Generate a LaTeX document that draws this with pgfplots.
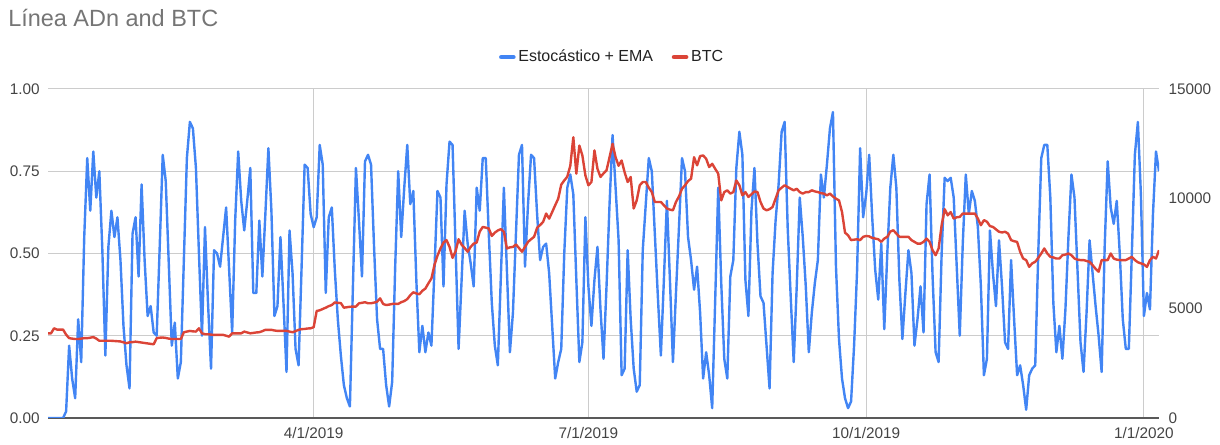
\documentclass[border=0pt]{standalone}
\usepackage{pgfplots}
\pgfplotsset{compat=1.18}
\usepackage{pgfplotstable}
\usepackage{fontspec}
\setmainfont{Liberation Sans}

\definecolor{stochblue}{HTML}{4285F4}
\definecolor{btcred}{HTML}{DB4437}
\definecolor{titlegray}{HTML}{757575}
\definecolor{labelgray}{HTML}{444444}
\definecolor{legendgray}{HTML}{222222}
\definecolor{gridgray}{HTML}{CCCCCC}

% day 0 = 1/1/2019
\pgfplotstableread{
day k
2 0
3 0
4 0
5 0
6 0
7 0
8 0.02
9 0.22
10 0.12
11 0.06
12 0.30
13 0.17
14 0.55
15 0.79
16 0.63
17 0.81
18 0.67
19 0.75
20 0.51
21 0.19
22 0.52
23 0.63
24 0.55
25 0.61
26 0.48
27 0.28
28 0.16
29 0.09
30 0.56
31 0.61
32 0.43
33 0.71
34 0.48
35 0.31
36 0.34
37 0.26
38 0.25
39 0.52
40 0.80
41 0.72
42 0.47
43 0.22
44 0.29
45 0.12
46 0.17
47 0.48
48 0.79
49 0.90
50 0.88
51 0.76
52 0.50
53 0.25
54 0.58
55 0.35
56 0.15
57 0.51
58 0.50
59 0.46
60 0.55
61 0.64
62 0.45
63 0.26
64 0.60
65 0.81
66 0.66
67 0.57
68 0.66
69 0.76
70 0.38
71 0.38
72 0.60
73 0.43
74 0.62
75 0.82
76 0.63
77 0.31
78 0.34
79 0.55
80 0.35
81 0.14
82 0.57
83 0.44
84 0.21
85 0.16
86 0.46
87 0.77
88 0.76
89 0.62
90 0.58
91 0.61
92 0.83
93 0.77
94 0.38
95 0.61
96 0.64
97 0.45
98 0.30
99 0.19
100 0.10
101 0.06
102 0.035
103 0.40
104 0.76
105 0.60
106 0.43
107 0.78
108 0.80
109 0.77
110 0.52
111 0.30
112 0.21
113 0.21
114 0.10
115 0.035
116 0.11
117 0.46
118 0.75
119 0.55
120 0.70
121 0.83
122 0.65
123 0.69
124 0.42
125 0.20
126 0.28
127 0.20
128 0.26
129 0.22
130 0.45
131 0.69
132 0.67
133 0.40
134 0.71
135 0.84
136 0.83
137 0.52
138 0.21
139 0.42
140 0.63
141 0.53
142 0.47
143 0.40
144 0.70
145 0.63
146 0.79
147 0.79
148 0.56
149 0.35
150 0.22
151 0.16
152 0.43
153 0.70
154 0.45
155 0.20
156 0.32
157 0.56
158 0.80
159 0.83
160 0.46
161 0.65
162 0.80
163 0.79
164 0.62
165 0.48
166 0.52
167 0.53
168 0.44
169 0.28
170 0.12
171 0.17
172 0.21
173 0.50
174 0.70
175 0.74
176 0.68
177 0.42
178 0.17
179 0.23
180 0.61
181 0.40
182 0.28
183 0.42
184 0.52
185 0.33
186 0.18
187 0.40
188 0.65
189 0.86
190 0.70
191 0.54
192 0.13
193 0.15
194 0.51
195 0.30
196 0.15
197 0.08
198 0.10
199 0.51
200 0.65
201 0.79
202 0.75
203 0.56
204 0.37
205 0.19
206 0.42
207 0.66
208 0.42
209 0.17
210 0.38
211 0.58
212 0.79
213 0.75
214 0.55
215 0.48
216 0.39
217 0.46
218 0.32
219 0.12
220 0.20
221 0.13
222 0.03
223 0.36
224 0.70
225 0.41
226 0.18
227 0.12
228 0.43
229 0.48
230 0.76
231 0.87
232 0.80
233 0.42
234 0.31
235 0.63
236 0.76
237 0.53
238 0.37
239 0.35
240 0.22
241 0.09
242 0.44
243 0.60
244 0.71
245 0.87
246 0.90
247 0.58
248 0.37
249 0.17
250 0.40
251 0.67
252 0.55
253 0.40
254 0.20
255 0.32
256 0.41
257 0.48
258 0.74
259 0.67
260 0.77
261 0.88
262 0.93
263 0.46
264 0.24
265 0.12
266 0.06
267 0.03
268 0.05
269 0.22
270 0.45
271 0.82
272 0.61
273 0.68
274 0.80
275 0.61
276 0.45
277 0.36
278 0.53
279 0.27
280 0.50
281 0.70
282 0.80
283 0.70
284 0.42
285 0.24
286 0.38
287 0.51
288 0.44
289 0.22
290 0.30
291 0.40
292 0.26
293 0.65
294 0.74
295 0.43
296 0.20
297 0.17
298 0.50
299 0.73
300 0.72
301 0.73
302 0.67
303 0.46
304 0.25
305 0.53
306 0.74
307 0.62
308 0.69
309 0.66
310 0.58
311 0.40
312 0.13
313 0.18
314 0.57
315 0.44
316 0.34
317 0.54
318 0.40
319 0.23
320 0.21
321 0.48
322 0.30
323 0.13
324 0.16
325 0.10
326 0.025
327 0.13
328 0.15
329 0.16
330 0.50
331 0.79
332 0.83
333 0.83
334 0.67
335 0.35
336 0.20
337 0.28
338 0.18
339 0.33
340 0.55
341 0.74
342 0.67
343 0.45
344 0.23
345 0.14
346 0.32
347 0.54
348 0.44
349 0.34
350 0.25
351 0.14
352 0.52
353 0.78
354 0.64
355 0.59
356 0.66
357 0.50
358 0.30
359 0.21
360 0.21
361 0.50
362 0.80
363 0.90
364 0.68
365 0.31
366 0.38
367 0.33
368 0.62
369 0.81
370 0.75
}\stochdata

\pgfplotstableread{
day price
2 3860
3 3860
4 4090
5 4030
6 4030
7 4030
8 3800
9 3640
10 3620
11 3600
12 3600
13 3620
14 3640
15 3640
16 3660
17 3690
18 3620
19 3520
20 3520
21 3520
22 3520
23 3520
24 3510
25 3500
26 3490
27 3450
28 3410
29 3450
30 3460
31 3480
32 3460
33 3440
34 3420
35 3400
36 3380
37 3360
38 3640
39 3660
40 3670
41 3650
42 3620
43 3600
44 3600
45 3600
46 3600
47 3910
48 3940
49 3970
50 3950
51 3940
52 4090
53 3860
54 3820
55 3820
56 3800
57 3790
58 3790
59 3790
60 3790
61 3750
62 3710
63 3860
64 3860
65 3860
66 3860
67 3940
68 3900
69 3860
70 3880
71 3900
72 3910
73 3960
74 4020
75 4020
76 4020
77 3990
78 3970
79 3970
80 3970
81 3970
82 3940
83 3910
84 3960
85 4020
86 4050
87 4060
88 4080
89 4090
90 4140
91 4880
92 4910
93 4970
94 5030
95 5100
96 5150
97 5270
98 5250
99 5240
100 5030
101 5050
102 5070
103 5080
104 5080
105 5230
106 5250
107 5280
108 5230
109 5230
110 5260
111 5300
112 5455
113 5200
114 5150
115 5170
116 5200
117 5210
118 5200
119 5280
120 5330
121 5420
122 5600
123 5730
124 5680
125 5640
126 5800
127 5900
128 6140
129 6360
130 6970
131 7400
132 7730
133 8000
134 8110
135 7800
136 7300
137 7600
138 8150
139 7900
140 7750
141 7580
142 7800
143 7950
144 8000
145 8500
146 8710
147 8680
148 8640
149 8300
150 8450
151 8550
152 8610
153 8490
154 7730
155 7780
156 7800
157 7910
158 7750
159 7580
160 7800
161 8030
162 8150
163 8260
164 8670
165 8800
166 8940
167 9320
168 9090
169 9390
170 9700
171 10000
172 10640
173 10830
174 11000
175 11500
176 12800
177 11140
178 12420
179 11970
180 11060
181 10610
182 10760
183 12200
184 11360
185 10990
186 11150
187 11290
188 11890
189 12500
190 11890
191 11500
192 11740
193 11200
194 10760
195 10990
196 9550
197 9920
198 10610
199 10760
200 10760
201 10500
202 10300
203 9850
204 9850
205 9850
206 9700
207 9550
208 9500
209 9470
210 9850
211 10100
212 10450
213 10610
214 10800
215 10910
216 11890
217 11520
218 11940
219 11970
220 11820
221 11440
222 11590
223 11360
224 11140
225 9920
226 10300
227 10380
228 10230
229 10300
230 10830
231 10610
232 10150
233 10300
234 10080
235 10200
236 10330
237 10300
238 9850
239 9550
240 9470
241 9520
242 9620
243 10000
244 10380
245 10500
246 10610
247 10530
248 10450
249 10380
250 10450
251 10300
252 10230
253 10300
254 10300
255 10380
256 10330
257 10300
258 10250
259 10230
260 10150
261 10230
262 10100
263 10000
264 9920
265 9390
266 8450
267 8330
268 8110
269 8130
270 8150
271 8110
272 8260
273 8300
274 8280
275 8210
276 8180
277 8150
278 8030
279 8180
280 8260
281 8500
282 8560
283 8410
284 8260
285 8260
286 8260
287 8260
288 8110
289 8030
290 7950
291 7950
292 8030
293 8180
294 8030
295 7650
296 7420
297 7730
298 8790
299 9520
300 9240
301 9390
302 9090
303 9150
304 9170
305 9320
306 9320
307 9320
308 9320
309 9320
310 9090
311 8790
312 9020
313 8950
314 8750
315 8710
316 8600
317 8490
318 8460
319 8490
320 8410
321 8110
322 8060
323 8030
324 7580
325 7270
326 7200
327 6890
328 7050
329 7120
330 7300
331 7500
332 7730
333 7500
334 7350
335 7320
336 7270
337 7270
338 7420
339 7450
340 7500
341 7420
342 7270
343 7220
344 7200
345 7200
346 7160
347 7120
348 6970
349 6800
350 6670
351 7200
352 7200
353 7200
354 7500
355 7270
356 7220
357 7200
358 7200
359 7200
360 7270
361 7350
362 7200
363 7100
364 7050
365 7000
366 6890
367 7200
368 7350
369 7270
370 7650
}\btcdata

\pgfplotsset{
  chartbase/.style={
    scale only axis,
    width=833.25pt, height=246.75pt,
    at={(36pt,20.25pt)}, anchor=south west,
    xmin=2, xmax=370,
    major tick length=0pt,
    axis line style={draw=none},
    tick label style={font=\fontsize{11.5}{13}\selectfont, text=labelgray, inner sep=0pt},
  },
}

\begin{document}
\begin{tikzpicture}
\path[use as bounding box] (0,0) rectangle (915pt,333.75pt);
\node[anchor=base west, inner sep=0pt, text=titlegray, font=\fontsize{17.6}{21}\selectfont]
  at (6pt,313.5pt) {Línea ADn and BTC};

\begin{axis}[chartbase,
  ymin=0, ymax=1,
  xtick={90,181,273,365},
  xticklabels={4/1/2019,7/1/2019,10/1/2019,1/1/2020},
  xticklabel shift=7pt,
  ytick={0.25,0.5,0.75,1},
  yticklabels={0.25,0.50,0.75,1.00},
  extra y ticks={0},
  extra y tick labels={0.00},
  extra y tick style={grid style={draw=black!65, line width=1.1pt}},
  yticklabel shift=6pt,
  xmajorgrids, ymajorgrids,
  grid style={draw=gridgray, line width=0.75pt},
]
\addplot[stochblue, line width=1.8pt, line join=round] table[x=day, y=k] {\stochdata};
\end{axis}

\begin{axis}[chartbase,
  axis x line=none,
  axis y line*=right,
  ymin=0, ymax=15000,
  ytick={0,5000,10000,15000},
  yticklabels={0,5000,10000,15000},
  scaled y ticks=false,
  yticklabel shift=7pt,
  legend columns=2,
  legend cell align=left,
  legend style={at={(0.508,1.097)}, anchor=center, draw=none, fill=none,
    font=\fontsize{12}{14}\selectfont, text=legendgray,
    /tikz/every even column/.append style={column sep=12pt}},
  legend image code/.code={\draw[line width=3.5pt, line cap=round] (0pt,0pt) -- (9pt,0pt);},
]
\addlegendimage{stochblue, line width=1.8pt}
\addlegendentry{Estocástico + EMA}
\addplot[btcred, line width=1.8pt, line join=round] table[x=day, y=price] {\btcdata};
\addlegendentry{BTC}
\end{axis}
\end{tikzpicture}
\end{document}
